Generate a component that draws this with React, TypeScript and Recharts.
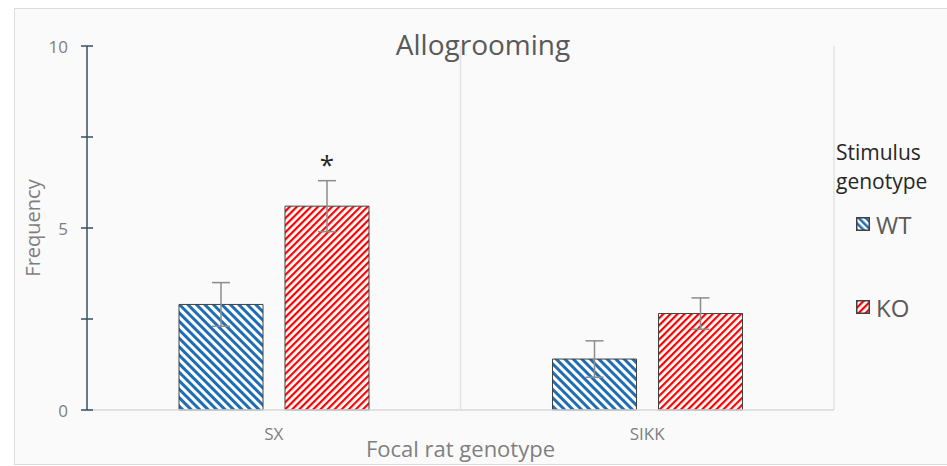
import React from 'react';
import { BarChart, Bar, XAxis, YAxis, CartesianGrid, ErrorBar, LabelList, Label } from 'recharts';

const categories = ['SX', 'SIKK'];
const wtValues = [2.9, 1.4];
const koValues = [5.6, 2.65];
const wtErrors = [0.6, 0.5];
const koErrors = [0.7, 0.43];
const significance = ['*', ''];
const seriesNames = ['WT', 'KO'];
const yTicks = [0, 2.5, 5, 7.5, 10];
const labeledTicks = [0, 5, 10];

const data = categories.map((c, i) => ({
  cat: c,
  wt: wtValues[i],
  ko: koValues[i],
  wtErr: wtErrors[i],
  koErr: koErrors[i],
  sig: significance[i],
}));

const FONT = '"Open Sans", "Noto Sans", sans-serif';
const BLUE = '#1f6db3';
const RED = '#ff0000';
const AXIS = '#34505f';
const TEXT_GRAY = '#7f7f7f';
const TM = 19;

const YTick = (props: any) => {
  const { x, y, payload } = props;
  const ax = x + TM;
  return (
    <g>
      <line x1={ax - 6} x2={ax + 6} y1={y} y2={y} stroke={AXIS} strokeWidth={1.5} />
      {labeledTicks.includes(payload.value) && (
        <text x={x} y={y} textAnchor="end" dominantBaseline="central" fill={TEXT_GRAY} fontSize={17} fontFamily={FONT}>
          {payload.value}
        </text>
      )}
    </g>
  );
};

const Swatch = ({ id }: { id: string }) => (
  <svg width={14} height={14} style={{ display: 'block' }}>
    <rect x={0.75} y={0.75} width={12.5} height={12.5} fill={`url(#${id})`} stroke="#404040" strokeWidth={1.5} />
  </svg>
);

const LegendBox = () => (
  <div style={{ position: 'absolute', left: 836, top: 138, width: 111, fontFamily: FONT }}>
    <div style={{ fontSize: 21, lineHeight: '29px', color: '#262626' }}>
      Stimulus
      <br />
      genotype
    </div>
    {seriesNames.map((name, i) => (
      <div
        key={name}
        style={{
          display: 'flex',
          alignItems: 'center',
          marginTop: i === 0 ? 13 : 53,
          marginLeft: 20,
          height: 30,
        }}
      >
        <Swatch id={i === 0 ? 'legWT' : 'legKO'} />
        <span style={{ fontSize: 24, color: '#595959', marginLeft: 6 }}>{name}</span>
      </div>
    ))}
  </div>
);

export default function App() {
  return (
    <div style={{ position: 'absolute', left: 0, top: 0, width: 947, height: 466, background: '#ffffff', overflow: 'hidden' }}>
      <div
        style={{
          position: 'absolute',
          left: 14,
          top: 8,
          width: 933,
          height: 457,
          boxSizing: 'border-box',
          borderLeft: '1.5px solid #dcdcdc',
          borderTop: '1.5px solid #dcdcdc',
          borderBottom: '1.5px solid #dcdcdc',
          background: '#fafafa',
        }}
      />
      <div
        style={{
          position: 'absolute',
          left: 383,
          width: 200,
          top: 25,
          textAlign: 'center',
          fontFamily: FONT,
          fontSize: 28,
          color: '#595959',
          lineHeight: '38px',
        }}
      >
        Allogrooming
      </div>
      <div style={{ position: 'absolute', left: 0, top: 0 }}>
        <BarChart
          width={947}
          height={466}
          data={data}
          margin={{ top: 46, right: 113, bottom: 26, left: 14 }}
          barSize={84}
          barGap={22}
        >
          <defs>
            <pattern id="stripeWT" patternUnits="userSpaceOnUse" width={6} height={6} patternTransform="rotate(-45)">
              <rect x={0} y={0} width={6} height={6} fill="#ffffff" />
              <rect x={0} y={0} width={3} height={6} fill={BLUE} />
            </pattern>
            <pattern id="stripeKO" patternUnits="userSpaceOnUse" width={5} height={5} patternTransform="rotate(45)">
              <rect x={0} y={0} width={5} height={5} fill="#ffffff" />
              <rect x={0} y={0} width={2.2} height={5} fill={RED} />
            </pattern>
            <pattern id="legWT" patternUnits="userSpaceOnUse" width={5} height={5} patternTransform="rotate(-45)">
              <rect x={0} y={0} width={5} height={5} fill="#ffffff" />
              <rect x={0} y={0} width={2.5} height={5} fill={BLUE} />
            </pattern>
            <pattern id="legKO" patternUnits="userSpaceOnUse" width={5} height={5} patternTransform="rotate(45)">
              <rect x={0} y={0} width={5} height={5} fill="#ffffff" />
              <rect x={0} y={0} width={2.2} height={5} fill={RED} />
            </pattern>
          </defs>
          <CartesianGrid
            horizontal={false}
            vertical
            stroke="#e3e3e3"
            strokeWidth={1.5}
            verticalCoordinatesGenerator={({ offset }: any) => [offset.left + offset.width / 2, offset.left + offset.width]}
          />
          <XAxis
            dataKey="cat"
            height={30}
            tickSize={0}
            tickMargin={18}
            tickLine={false}
            axisLine={{ stroke: '#d9d9d9', strokeWidth: 1.5 }}
            tick={{ fill: TEXT_GRAY, fontSize: 17, fontFamily: FONT }}
          >
            <Label
              value="Focal rat genotype"
              position="bottom"
              offset={1}
              style={{ fill: TEXT_GRAY, fontSize: 22, fontFamily: FONT }}
            />
          </XAxis>
          <YAxis
            width={73}
            domain={[0, 10]}
            ticks={yTicks}
            interval={0}
            tickSize={0}
            tickMargin={TM}
            tickLine={false}
            axisLine={{ stroke: AXIS, strokeWidth: 1.5 }}
            tick={<YTick />}
          >
            <Label
              value="Frequency"
              angle={-90}
              position="insideLeft"
              offset={19}
              style={{ textAnchor: 'middle', fill: TEXT_GRAY, fontSize: 20, fontFamily: FONT }}
            />
          </YAxis>
          <Bar dataKey="wt" name="WT" fill="url(#stripeWT)" stroke="#404040" strokeWidth={1} isAnimationActive={false}>
            <ErrorBar dataKey="wtErr" width={9} stroke="#8c8c8c" strokeWidth={1.5} />
          </Bar>
          <Bar dataKey="ko" name="KO" fill="url(#stripeKO)" stroke="#404040" strokeWidth={1} isAnimationActive={false}>
            <ErrorBar dataKey="koErr" width={9} stroke="#8c8c8c" strokeWidth={1.5} />
            <LabelList dataKey="sig" position="top" offset={32} fill="#262626" fontSize={26} fontFamily={FONT} />
          </Bar>
        </BarChart>
      </div>
      <LegendBox />
    </div>
  );
}
